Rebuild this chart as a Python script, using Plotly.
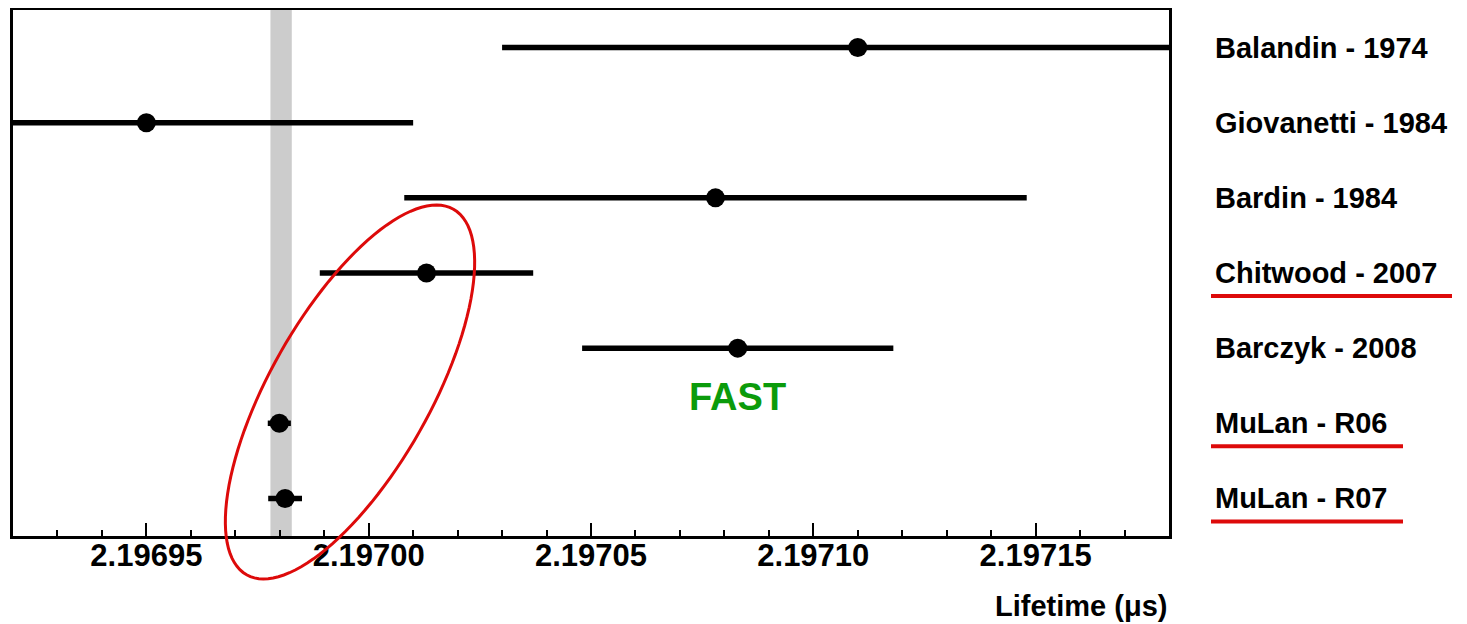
import numpy as np
import plotly.graph_objects as go

# ---- data ----
experiments = ["Balandin - 1974", "Giovanetti - 1984", "Bardin - 1984",
               "Chitwood - 2007", "Barczyk - 2008", "MuLan - R06", "MuLan - R07"]
lifetime = [2.19711, 2.19695, 2.197078, 2.197013, 2.197083, 2.1969799, 2.1969812]
error = [0.00008, 0.00006, 0.000070, 0.000024, 0.000035, 0.0000026, 0.0000038]
underlined = ["Chitwood - 2007", "MuLan - R06", "MuLan - R07"]
band_center = 2.1969803
band_halfwidth = 0.0000024
tick_vals = [2.19695, 2.19700, 2.19705, 2.19710, 2.19715]
x_range = [2.19692, 2.19718]
fast_label = "FAST"
fast_row = "Barczyk - 2008"

OFF = 8  # page body margin
W, H = 1459, 616
ML, MT = 13 - OFF, 10 - OFF
MR = W - (1169 - OFF)
MB = H - (536 - OFF)
PW, PH = W - ML - MR, H - MT - MB

ypos = list(range(len(experiments)))
FONT = "Liberation Sans, Arial, Helvetica, sans-serif"

fig = go.Figure()
fig.add_trace(go.Scatter(
    x=lifetime, y=ypos, mode="markers",
    marker=dict(color="black", size=19),
    error_x=dict(type="data", array=error, visible=True, color="black",
                 thickness=5.5, width=0),
    showlegend=False, hoverinfo="x",
))

shapes = []
# grey band (world average)
shapes.append(dict(type="rect", xref="x", yref="paper",
                   x0=band_center - band_halfwidth, x1=band_center + band_halfwidth,
                   y0=0, y1=1, fillcolor="#cccccc", line=dict(width=0), layer="below"))

# helper: screenshot pixel -> paper
def px2paper(px, py):
    return (px - OFF - ML) / PW, (MT + PH - (py - OFF)) / PH

def row_pixel(i):
    yr = [len(experiments) - 0.5, -0.5]
    return OFF + MT + (i - yr[1]) / (yr[0] - yr[1]) * PH

# red underlines
for name in underlined:
    i = experiments.index(name)
    py = row_pixel(i) + 23
    x0p, yp = px2paper(1211, py)
    width_px = 241 if "Chitwood" in name else 192
    x1p, _ = px2paper(1211 + width_px, py)
    shapes.append(dict(type="line", xref="paper", yref="paper", x0=x0p, x1=x1p,
                       y0=yp, y1=yp, line=dict(color="#dd0a0a", width=4)))

# red ellipse
cx, cy, a, b, th = 350, 392, 210, 80, np.radians(29.5)
t = np.linspace(0, 2 * np.pi, 121)
ux, uy = np.sin(th), -np.cos(th)
vx, vy = np.cos(th), np.sin(th)
exs = cx + a * np.cos(t) * ux + b * np.sin(t) * vx
eys = cy + a * np.cos(t) * uy + b * np.sin(t) * vy
pts = [px2paper(x, y) for x, y in zip(exs, eys)]
path = "M " + " L ".join(f"{p[0]:.5f},{p[1]:.5f}" for p in pts) + " Z"
shapes.append(dict(type="path", xref="paper", yref="paper", path=path,
                   line=dict(color="#dd0a0a", width=3), layer="above"))

annotations = []
for i, name in enumerate(experiments):
    xp, _ = px2paper(1213, 0)
    annotations.append(dict(x=xp, y=i, xref="paper", yref="y", text=name,
                            showarrow=False, xanchor="left", yanchor="middle",
                            font=dict(family=FONT, size=29, color="black", weight="bold")))
annotations.append(dict(x=lifetime[experiments.index(fast_row)],
                        y=experiments.index(fast_row), xref="x", yref="y",
                        text=fast_label, showarrow=False, yshift=-49,
                        font=dict(family=FONT, size=38, color="#0b9b0b", weight="bold")))
_, ty = px2paper(0, 606)
annotations.append(dict(x=1, y=ty, xref="paper", yref="paper", text="Lifetime (μs)",
                        showarrow=False, xanchor="right", yanchor="middle",
                        font=dict(family=FONT, size=29, color="black", weight="bold")))

fig.update_layout(
    width=W, height=H, margin=dict(l=ML, r=MR, t=MT, b=MB, autoexpand=False),
    plot_bgcolor="white", paper_bgcolor="white",
    shapes=shapes, annotations=annotations,
    xaxis=dict(range=x_range, tickvals=tick_vals, tickformat=".5f",
               ticks="inside", ticklen=13, tickwidth=2, tickcolor="black",
               minor=dict(dtick=0.00001, tick0=2.19695, ticks="inside", ticklen=6,
                          tickwidth=2, tickcolor="black", showgrid=False),
               showline=True, linecolor="black", linewidth=3, mirror=True,
               showgrid=False, zeroline=False, ticklabelstandoff=-10,
               tickfont=dict(family=FONT, size=31, color="black", weight="bold")),
    yaxis=dict(range=[len(experiments) - 0.5, -0.5], showticklabels=False,
               showline=True, linecolor="black", linewidth=3, mirror=True,
               showgrid=False, zeroline=False, ticks=""),
)

fig.write_html("out.html")
